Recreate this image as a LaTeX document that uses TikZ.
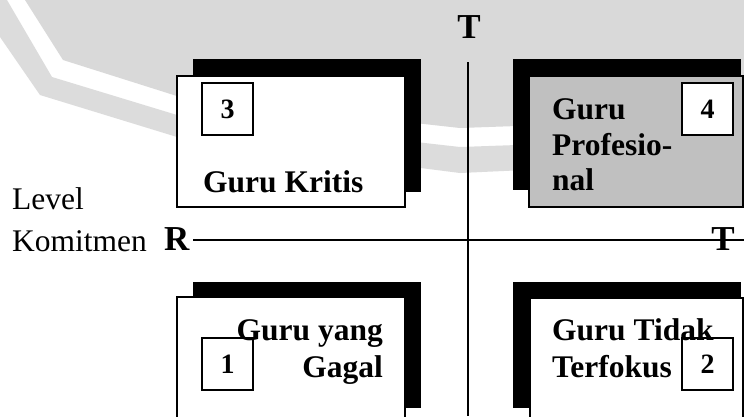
\documentclass[tikz,border=0pt]{standalone}
\usepackage{fontspec}
\setmainfont{Liberation Serif}
\definecolor{wmgray}{HTML}{D9D9D9}
\definecolor{wmstripe}{HTML}{DCDCDC}
\definecolor{boxgray}{HTML}{C0C0C0}
\begin{document}
\begin{tikzpicture}[x=1pt,y=-1pt,
  shadowbox/.style={fill=black,draw=none,inner sep=0pt,outer sep=0pt,anchor=north west},
  card/.style={draw=black,line width=1.5pt,fill=white,inner sep=0pt,outer sep=0pt,anchor=north west},
  numbox/.style={draw=black,line width=1.5pt,fill=white,minimum width=51pt,minimum height=52pt,inner sep=0pt,font=\fontsize{28}{30}\selectfont\bfseries},
  lbl/.style={inner sep=0pt,font=\fontsize{31.5}{36}\selectfont\bfseries},
  axislbl/.style={inner sep=0pt,font=\fontsize{35}{40}\selectfont\bfseries},
  sidelbl/.style={inner sep=0pt,font=\fontsize{31.5}{36}\selectfont},
  axisline/.style={line width=1.3pt,draw=black}]
\useasboundingbox (0,0) rectangle (744,416);
\fill[white] (0,0) rectangle (744,416);
\clip (0,0) rectangle (744,416);
% watermark background
\fill[wmgray] (25,0) -- (63,60) -- (180,97) -- (460,128) -- (744,118) -- (744,0) -- cycle;
\fill[wmstripe] (7,0) -- (52,77) -- (177,115) -- (460,147) -- (744,137) -- (744,160) -- (460,173) -- (177,137) -- (40,95) -- (0,37) -- (0,0) -- cycle;
% shadows
\node[shadowbox,minimum width=228pt,minimum height=133pt] (s3) at (193,59) {};
\node[shadowbox,minimum width=228pt,minimum height=131pt] (s4) at (513,59) {};
\node[shadowbox,minimum width=228pt,minimum height=126pt] (s1) at (193,282) {};
\node[shadowbox,minimum width=228pt,minimum height=126pt] (s2) at (513,282) {};
% cards
\node[card,minimum width=228pt,minimum height=131pt] (b3) at (177,76) {};
\node[card,fill=boxgray,minimum width=214pt,minimum height=131pt] (b4) at (529,76) {};
\node[card,minimum width=228pt,minimum height=140pt] (b1) at (177,297) {};
\node[card,minimum width=213pt,minimum height=140pt] (b2) at (530,298) {};
% axes
\coordinate (vtop) at (468,62);
\coordinate (vbot) at (468,416);
\draw[axisline] (vtop) -- (vbot);
\node[axislbl,anchor=base west] (R) at (164,250) {R};
\coordinate (hstart) at (193,240);
\coordinate (hend) at (744,240);
\draw[axisline] (hstart) -- (hend);
\node[axislbl,anchor=base] (Ttop) at (469,38) {T};
\node[axislbl,anchor=base] (Tright) at (723,250) {T};
% side label
\node[sidelbl,anchor=base west] (lev) at (12,209) {Level};
\node[sidelbl,anchor=base west] (kom) at (12,251) {Komitmen};
% number boxes
\node[numbox] (n3) at (227.5,109) {3};
\node[numbox] (n4) at (707.5,109) {4};
\node[numbox] (n1) at (227.5,364) {1};
\node[numbox] (n2) at (707.5,364) {2};
% texts
\node[lbl,anchor=base west] (t3) at (203,192) {Guru Kritis};
\node[lbl,anchor=base west] (t4a) at (552,119) {Guru};
\node[lbl,anchor=base west] (t4b) at (552,155) {Profesio-};
\node[lbl,anchor=base west] (t4c) at (552,190) {nal};
\node[lbl,anchor=base east] (t1a) at (383,340) {Guru yang};
\node[lbl,anchor=base east] (t1b) at (383,377) {Gagal};
\node[lbl,anchor=base west] (t2a) at (552,340) {Guru Tidak};
\node[lbl,anchor=base west] (t2b) at (552,377) {Terfokus};
\end{tikzpicture}
\end{document}
